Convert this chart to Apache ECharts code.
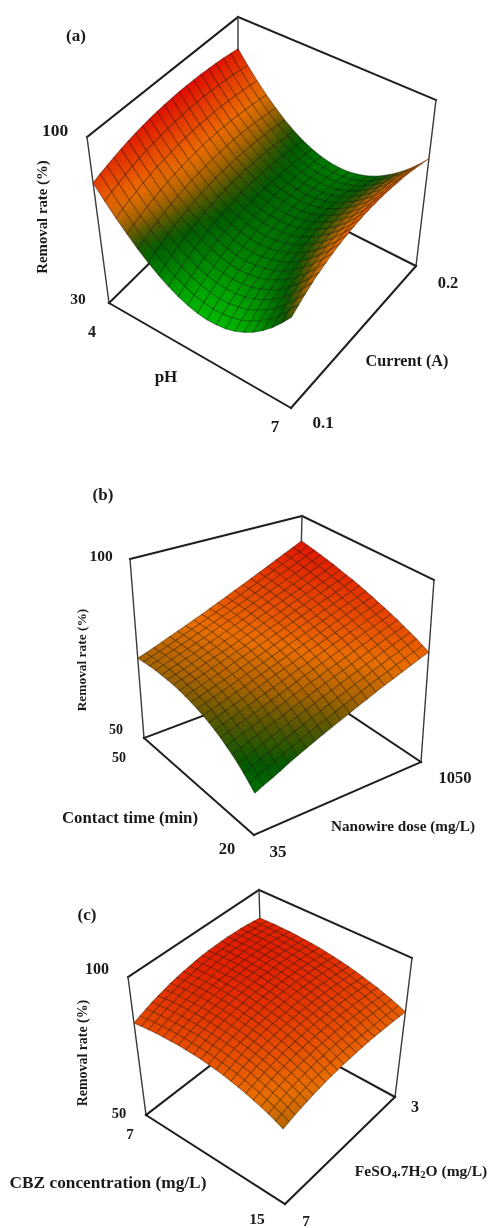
<!DOCTYPE html>
<html>
<head>
<meta charset="utf-8">
<title>Removal rate surfaces</title>
<script src="https://cdn.jsdelivr.net/npm/echarts@6/dist/echarts.min.js"></script>
<style>
html, body { margin: 0; padding: 0; background: #fff; }
#chart { width: 489px; height: 1228px; filter: blur(0.55px); }
</style>
</head>
<body>
<div id="chart"></div>
<script>
// removal rate (%), one row per step along the left axis
const surfaceA = [
  [80.6,81.8,82.8,83.8,84.7,85.5,86.2,86.8,87.3,87.7,88.0,88.2,88.4,88.4,88.3,88.2,87.9,87.6,87.2,86.6,86.0],
  [74.9,76.1,77.2,78.2,79.2,80.0,80.7,81.3,81.8,82.3,82.6,82.8,83.0,83.0,83.0,82.8,82.6,82.2,81.8,81.2,80.6],
  [69.7,71.0,72.1,73.2,74.1,75.0,75.7,76.3,76.9,77.3,77.7,77.9,78.1,78.1,78.1,77.9,77.7,77.3,76.9,76.3,75.7],
  [65.1,66.4,67.5,68.6,69.6,70.5,71.2,71.9,72.5,72.9,73.3,73.6,73.7,73.8,73.7,73.6,73.3,73.0,72.5,72.0,71.3],
  [60.9,62.3,63.5,64.6,65.6,66.5,67.3,68.0,68.6,69.0,69.4,69.7,69.9,69.9,69.9,69.8,69.5,69.2,68.7,68.1,67.5],
  [57.3,58.7,59.9,61.1,62.1,63.0,63.8,64.6,65.2,65.7,66.1,66.3,66.5,66.6,66.6,66.4,66.2,65.8,65.4,64.8,64.1],
  [54.2,55.6,56.9,58.0,59.1,60.1,60.9,61.7,62.3,62.8,63.2,63.5,63.7,63.8,63.7,63.6,63.4,63.0,62.5,61.9,61.3],
  [51.6,53.0,54.3,55.5,56.6,57.6,58.5,59.3,59.9,60.4,60.9,61.2,61.4,61.5,61.4,61.3,61.0,60.7,60.2,59.6,58.9],
  [49.5,50.9,52.3,53.5,54.7,55.7,56.6,57.4,58.0,58.6,59.0,59.3,59.6,59.7,59.6,59.5,59.3,58.9,58.4,57.8,57.1],
  [47.9,49.4,50.8,52.1,53.2,54.3,55.2,56.0,56.7,57.3,57.7,58.0,58.3,58.4,58.4,58.2,58.0,57.6,57.1,56.5,55.8],
  [46.8,48.4,49.8,51.1,52.3,53.4,54.3,55.1,55.8,56.4,56.9,57.3,57.5,57.6,57.6,57.5,57.2,56.8,56.3,55.7,55.0],
  [46.2,47.8,49.3,50.6,51.9,53.0,53.9,54.8,55.5,56.1,56.6,57.0,57.2,57.3,57.3,57.2,57.0,56.6,56.1,55.5,54.7],
  [46.2,47.8,49.3,50.7,51.9,53.1,54.1,55.0,55.7,56.3,56.8,57.2,57.5,57.6,57.6,57.5,57.2,56.8,56.3,55.7,54.9],
  [46.6,48.3,49.9,51.3,52.5,53.7,54.7,55.6,56.4,57.0,57.6,57.9,58.2,58.3,58.3,58.2,58.0,57.6,57.1,56.4,55.7],
  [47.6,49.3,50.9,52.4,53.7,54.9,55.9,56.8,57.6,58.3,58.8,59.2,59.5,59.6,59.6,59.5,59.3,58.9,58.4,57.7,56.9],
  [49.1,50.8,52.5,53.9,55.3,56.5,57.6,58.5,59.3,60.0,60.6,61.0,61.3,61.4,61.4,61.3,61.0,60.7,60.1,59.5,58.7],
  [51.1,52.9,54.5,56.1,57.4,58.7,59.8,60.7,61.6,62.3,62.8,63.2,63.5,63.7,63.7,63.6,63.3,63.0,62.4,61.8,61.0],
  [53.6,55.4,57.1,58.7,60.1,61.3,62.5,63.5,64.3,65.0,65.6,66.0,66.3,66.5,66.5,66.4,66.2,65.8,65.2,64.6,63.8],
  [56.6,58.5,60.2,61.8,63.2,64.5,65.7,66.7,67.6,68.3,68.9,69.3,69.6,69.8,69.8,69.7,69.5,69.1,68.6,67.9,67.1],
  [60.2,62.1,63.8,65.4,66.9,68.2,69.4,70.4,71.3,72.1,72.7,73.2,73.5,73.7,73.7,73.6,73.3,72.9,72.4,71.7,70.9],
  [64.2,66.1,67.9,69.6,71.1,72.4,73.6,74.7,75.6,76.4,77.0,77.5,77.8,78.0,78.0,77.9,77.7,77.3,76.7,76.0,75.2]
];

const surfaceB = [
  [72.3,73.0,73.8,74.6,75.5,76.3,77.2,78.1,79.0,80.0,81.0,82.0,83.1,84.1,85.2,86.4,87.5,88.7,89.9,91.1,92.4],
  [72.3,73.1,73.8,74.6,75.4,76.3,77.2,78.0,79.0,79.9,80.9,81.9,82.9,84.0,85.0,86.1,87.3,88.4,89.6,90.8,92.0],
  [72.3,73.0,73.8,74.6,75.4,76.2,77.1,77.9,78.8,79.8,80.7,81.7,82.7,83.7,84.8,85.9,87.0,88.1,89.2,90.4,91.6],
  [72.2,72.9,73.7,74.5,75.2,76.1,76.9,77.8,78.7,79.6,80.5,81.5,82.5,83.5,84.5,85.6,86.6,87.7,88.9,90.0,91.2],
  [72.0,72.8,73.5,74.3,75.0,75.9,76.7,77.5,78.4,79.3,80.2,81.2,82.2,83.1,84.2,85.2,86.2,87.3,88.4,89.6,90.7],
  [71.8,72.5,73.2,74.0,74.8,75.6,76.4,77.3,78.1,79.0,79.9,80.9,81.8,82.8,83.8,84.8,85.9,86.9,88.0,89.1,90.3],
  [71.5,72.2,72.9,73.7,74.5,75.3,76.1,76.9,77.8,78.7,79.6,80.5,81.5,82.4,83.4,84.4,85.4,86.5,87.5,88.6,89.7],
  [71.1,71.8,72.6,73.3,74.1,74.9,75.7,76.5,77.4,78.3,79.2,80.1,81.0,82.0,83.0,84.0,85.0,86.0,87.1,88.1,89.2],
  [70.6,71.4,72.1,72.9,73.6,74.4,75.3,76.1,77.0,77.8,78.7,79.6,80.6,81.5,82.5,83.5,84.5,85.5,86.5,87.6,88.7],
  [70.1,70.8,71.6,72.3,73.1,73.9,74.7,75.6,76.4,77.3,78.2,79.1,80.0,81.0,81.9,82.9,83.9,84.9,85.9,87.0,88.1],
  [69.5,70.2,71.0,71.8,72.6,73.4,74.2,75.0,75.9,76.8,77.7,78.6,79.5,80.4,81.4,82.4,83.4,84.4,85.4,86.4,87.5],
  [68.8,69.6,70.3,71.1,71.9,72.7,73.6,74.4,75.3,76.2,77.1,78.0,78.9,79.8,80.8,81.8,82.8,83.8,84.8,85.8,86.9],
  [68.1,68.8,69.6,70.4,71.2,72.1,72.9,73.8,74.7,75.5,76.4,77.3,78.3,79.2,80.2,81.1,82.1,83.1,84.2,85.2,86.2],
  [67.3,68.0,68.8,69.6,70.5,71.3,72.2,73.0,73.9,74.8,75.7,76.6,77.6,78.5,79.5,80.5,81.5,82.5,83.5,84.5,85.6],
  [66.4,67.2,68.0,68.8,69.6,70.5,71.4,72.2,73.1,74.1,75.0,75.9,76.9,77.8,78.8,79.8,80.8,81.8,82.8,83.8,84.9],
  [65.4,66.2,67.1,67.9,68.8,69.6,70.5,71.4,72.4,73.3,74.2,75.1,76.1,77.0,78.0,79.0,80.0,81.0,82.1,83.1,84.2],
  [64.4,65.2,66.1,66.9,67.8,68.7,69.6,70.5,71.5,72.4,73.3,74.3,75.3,76.2,77.2,78.2,79.2,80.3,81.3,82.4,83.4],
  [63.3,64.1,65.0,65.9,66.8,67.7,68.7,69.6,70.5,71.5,72.5,73.4,74.4,75.4,76.4,77.4,78.4,79.5,80.5,81.6,82.7],
  [62.1,63.0,63.9,64.8,65.8,66.7,67.6,68.6,69.6,70.5,71.5,72.5,73.5,74.5,75.5,76.6,77.6,78.7,79.7,80.8,81.9],
  [60.8,61.8,62.7,63.7,64.7,65.6,66.6,67.6,68.6,69.5,70.5,71.5,72.6,73.6,74.7,75.7,76.7,77.8,78.9,79.9,81.0],
  [59.5,60.5,61.4,62.4,63.5,64.5,65.5,66.5,67.5,68.5,69.5,70.5,71.6,72.6,73.7,74.8,75.8,76.9,78.0,79.1,80.2]
];

const surfaceC = [
  [83.3,84.3,85.2,86.1,86.8,87.5,88.2,88.7,89.2,89.6,90.0,90.3,90.5,90.6,90.7,90.7,90.6,90.5,90.3,90.0,89.6],
  [83.5,84.5,85.4,86.2,87.0,87.7,88.3,88.9,89.3,89.8,90.1,90.4,90.6,90.7,90.8,90.8,90.7,90.6,90.3,90.1,89.7],
  [83.6,84.6,85.5,86.3,87.1,87.8,88.4,88.9,89.4,89.8,90.2,90.4,90.6,90.8,90.8,90.8,90.7,90.6,90.4,90.1,89.8],
  [83.7,84.6,85.5,86.3,87.1,87.7,88.4,88.9,89.4,89.8,90.1,90.4,90.6,90.7,90.8,90.8,90.7,90.6,90.4,90.1,89.7],
  [83.6,84.6,85.4,86.3,87.0,87.7,88.3,88.8,89.3,89.7,90.0,90.3,90.5,90.6,90.7,90.7,90.6,90.5,90.3,90.0,89.7],
  [83.5,84.5,85.3,86.1,86.9,87.5,88.1,88.7,89.1,89.5,89.9,90.1,90.3,90.4,90.5,90.5,90.5,90.3,90.1,89.9,89.5],
  [83.4,84.3,85.1,85.9,86.6,87.3,87.9,88.4,88.9,89.3,89.6,89.9,90.1,90.2,90.3,90.3,90.2,90.1,89.9,89.7,89.3],
  [83.1,84.0,84.9,85.7,86.4,87.0,87.6,88.1,88.6,89.0,89.3,89.6,89.8,89.9,90.0,90.0,89.9,89.8,89.7,89.4,89.1],
  [82.8,83.7,84.5,85.3,86.0,86.7,87.2,87.8,88.2,88.6,88.9,89.2,89.4,89.5,89.6,89.6,89.6,89.5,89.3,89.1,88.8],
  [82.5,83.3,84.1,84.9,85.6,86.2,86.8,87.3,87.8,88.1,88.5,88.7,88.9,89.1,89.2,89.2,89.2,89.1,88.9,88.7,88.4],
  [82.0,82.9,83.7,84.4,85.1,85.7,86.3,86.8,87.2,87.6,88.0,88.2,88.4,88.6,88.7,88.7,88.7,88.6,88.5,88.3,88.0],
  [81.5,82.3,83.1,83.9,84.5,85.1,85.7,86.2,86.7,87.0,87.4,87.6,87.9,88.0,88.1,88.2,88.1,88.1,88.0,87.8,87.5],
  [80.9,81.7,82.5,83.2,83.9,84.5,85.1,85.6,86.0,86.4,86.7,87.0,87.2,87.4,87.5,87.6,87.6,87.5,87.4,87.2,87.0],
  [80.2,81.1,81.8,82.5,83.2,83.8,84.3,84.8,85.3,85.7,86.0,86.3,86.5,86.7,86.8,86.9,86.9,86.8,86.7,86.6,86.4],
  [79.5,80.3,81.1,81.8,82.4,83.0,83.5,84.0,84.5,84.9,85.2,85.5,85.7,85.9,86.0,86.1,86.1,86.1,86.1,85.9,85.7],
  [78.7,79.5,80.2,80.9,81.6,82.1,82.7,83.2,83.6,84.0,84.3,84.6,84.9,85.1,85.2,85.3,85.4,85.3,85.3,85.2,85.0],
  [77.8,78.6,79.3,80.0,80.6,81.2,81.7,82.2,82.7,83.1,83.4,83.7,84.0,84.2,84.3,84.4,84.5,84.5,84.5,84.4,84.3],
  [76.9,77.6,78.3,79.0,79.6,80.2,80.7,81.2,81.7,82.1,82.4,82.7,83.0,83.2,83.4,83.5,83.6,83.6,83.6,83.5,83.4],
  [75.9,76.6,77.3,78.0,78.6,79.1,79.7,80.2,80.6,81.0,81.4,81.7,81.9,82.2,82.3,82.5,82.6,82.6,82.7,82.6,82.6],
  [74.8,75.5,76.2,76.8,77.4,78.0,78.5,79.0,79.4,79.8,80.2,80.5,80.7,80.9,81.1,81.2,81.3,81.4,81.5,81.5,81.6],
  [73.6,74.3,75.0,75.6,76.2,76.8,77.3,77.8,78.2,78.6,79.0,79.3,79.6,79.9,80.1,80.3,80.4,80.5,80.6,80.6,80.6]
];

// colour ramps of the removal rate, (a) has its own spread
const rampValuesA = [46, 50, 55, 60, 64, 68, 73, 79, 85, 90];
const rampValuesBC = [46, 52, 58, 63, 68, 73, 78, 84, 90, 96];
const rampColors = [[0,185,0],[0,165,0],[0,125,0],[0,88,0],[80,86,0],[175,100,0],[234,110,0],[230,72,0],[225,35,0],[222,0,0]];

const zRangeA = [30, 100];
const zRangeB = [50, 100];
const zRangeC = [50, 100];

// box corners on the page, order: left, front, right, back
const floorA = [[109,303],[291,408],[416,266],[238,176]];
const roofA = [[87,137],[292,222],[436,100],[238,17]];
const floorB = [[144,738],[254,835],[421,762],[298,680]];
const roofB = [[130,559],[258,615],[434,580],[302,516]];
const floorC = [[146,1115],[285,1204],[395,1097],[263,1025]];
const roofC = [[128,977],[281,1045],[412,958],[259,890]];

const serif = '"Liberation Serif", "Times New Roman", serif';

function label(text, x, y, size, rotation) {
  return {
    type: 'text', x: x, y: y, rotation: rotation || 0, silent: true,
    style: { text: text, fontFamily: serif, fontWeight: 'bold', fontSize: size, fill: '#1a1a1a', align: 'center', verticalAlign: 'middle' }
  };
}

const up = Math.PI / 2;
const labels = [
  label('(a)', 76, 37, 17), label('100', 55, 131, 17.5), label('30', 78, 300, 15.5), label('4', 92, 333, 16),
  label('pH', 166, 378, 17), label('7', 275, 428, 17), label('0.1', 323, 424, 17), label('0.2', 448, 284, 16.5),
  label('Current (A)', 407, 362, 16.2), label('Removal rate (%)', 43, 217, 14.8, up),

  label('(b)', 103, 496, 17), label('100', 101, 557, 15.5), label('50', 116, 730, 14), label('50', 119, 758, 14),
  label('Contact time (min)', 130, 819, 16.8), label('20', 227, 850, 16.5), label('35', 278, 853, 17),
  label('1050', 455, 779, 16.5), label('Nanowire dose (mg/L)', 403, 827, 15.2), label('Removal rate (%)', 83, 660, 13.4, up),

  label('(c)', 87, 916, 17), label('100', 97, 970, 16), label('50', 119, 1114, 14.5), label('7', 130, 1135, 15),
  label('CBZ concentration (mg/L)', 108, 1184, 17.3), label('15', 257, 1220, 15.5), label('7', 306, 1222, 15.5),
  label('3', 415, 1108, 16), label('Removal rate (%)', 83, 1053, 13.9, up),
  {
    type: 'text', x: 421, y: 1172, silent: true,
    style: {
      text: '{n|FeSO}{s|4}{n|.7H}{s|2}{n|O (mg/L)}', align: 'center', verticalAlign: 'middle',
      rich: {
        n: { fontFamily: serif, fontWeight: 'bold', fontSize: 15.5, fill: '#1a1a1a' },
        s: { fontFamily: serif, fontWeight: 'bold', fontSize: 10, fill: '#1a1a1a', verticalAlign: 'bottom' }
      }
    }
  }
];

function bilinear(c, u, v) {
  return [0, 1].map(function (k) {
    return c[0][k] * (1 - u) * (1 - v) + c[1][k] * u * (1 - v) + c[2][k] * u * v + c[3][k] * (1 - u) * v;
  });
}

// u runs left -> front, v runs front side -> right side, w is the height in the box
function project(floor, roof, u, v, w) {
  const a = bilinear(floor, u, v);
  const b = bilinear(roof, u, v);
  return [a[0] + (b[0] - a[0]) * w, a[1] + (b[1] - a[1]) * w];
}

function rampColor(ramp, z) {
  let k = 0;
  while (k < ramp.length - 2 && z > ramp[k + 1]) k++;
  const t = Math.max(0, Math.min(1, (z - ramp[k]) / (ramp[k + 1] - ramp[k])));
  const c = rampColors[k].map(function (x, n) { return Math.round(x + (rampColors[k + 1][n] - x) * t); });
  return 'rgb(' + c.join(',') + ')';
}

function middle(a, b) {
  return [(a[0] + b[0]) / 2, (a[1] + b[1]) / 2];
}

function frameSeries(floor, roof) {
  const edges = [
    [0,0,1, 0,1,1], [0,1,1, 1,1,1], [0,0,0, 0,0,1], [0,1,0, 0,1,1], [1,1,0, 1,1,1],
    [0,0,0, 1,0,0], [1,0,0, 1,1,0], [1,1,0, 0,1,0], [0,1,0, 0,0,0]
  ];
  return {
    type: 'custom', coordinateSystem: 'cartesian2d', silent: true, animation: false, z: 1,
    data: edges,
    renderItem: function (params, api) {
      const p = api.coord(project(floor, roof, api.value(0), api.value(1), api.value(2)));
      const q = api.coord(project(floor, roof, api.value(3), api.value(4), api.value(5)));
      const vertical = api.value(0) === api.value(3) && api.value(1) === api.value(4);
      return {
        type: 'line',
        shape: { x1: p[0], y1: p[1], x2: q[0], y2: q[1] },
        style: { stroke: vertical ? '#3a3a3a' : '#1e1e1e', lineWidth: vertical ? 1.4 : 2, lineCap: 'square' }
      };
    }
  };
}

function surfaceSeries(values, zRange, ramp, floor, roof) {
  const n = values.length - 1;
  const cells = [];
  // far cells first so the nearer ones paint over them
  for (let i = 0; i < n; i++) {
    for (let j = n - 1; j >= 0; j--) {
      cells.push([i, j, values[i][j], values[i + 1][j], values[i + 1][j + 1], values[i][j + 1]]);
    }
  }
  const height = function (z) { return (z - zRange[0]) / (zRange[1] - zRange[0]); };
  return {
    type: 'custom', coordinateSystem: 'cartesian2d', silent: true, animation: false, z: 2, progressive: 0,
    data: cells,
    renderItem: function (params, api) {
      const i = api.value(0), j = api.value(1);
      const z = [api.value(2), api.value(3), api.value(4), api.value(5)];
      const corners = [[i, j], [i + 1, j], [i + 1, j + 1], [i, j + 1]];
      const pts = corners.map(function (c, k) {
        return api.coord(project(floor, roof, c[0] / n, c[1] / n, height(z[k])));
      });
      // blend across the cell along the side where the value changes most
      const alongU = Math.abs(z[1] + z[2] - z[0] - z[3]) > Math.abs(z[2] + z[3] - z[0] - z[1]);
      const from = alongU ? middle(pts[0], pts[3]) : middle(pts[0], pts[1]);
      const to = alongU ? middle(pts[1], pts[2]) : middle(pts[2], pts[3]);
      const c0 = rampColor(ramp, alongU ? (z[0] + z[3]) / 2 : (z[0] + z[1]) / 2);
      const c1 = rampColor(ramp, alongU ? (z[1] + z[2]) / 2 : (z[2] + z[3]) / 2);
      const fill = new echarts.graphic.LinearGradient(from[0], from[1], to[0], to[1], [
        { offset: 0, color: c0 }, { offset: 1, color: c1 }
      ], true);
      return {
        type: 'group',
        children: [
          { type: 'polygon', shape: { points: pts }, style: { fill: fill, stroke: c0, lineWidth: 0.3 } },
          { type: 'polygon', shape: { points: pts }, style: { fill: 'none', stroke: 'rgba(0,0,0,0.3)', lineWidth: 1.1 } }
        ]
      };
    }
  };
}

const chart = echarts.init(document.getElementById('chart'), null, { renderer: 'canvas' });
chart.setOption({
  animation: false,
  backgroundColor: '#fff',
  grid: { left: 0, right: 0, top: 0, bottom: 0 },
  xAxis: { type: 'value', min: 0, max: 489, show: false },
  yAxis: { type: 'value', min: 0, max: 1228, inverse: true, show: false },
  graphic: labels,
  series: [
    frameSeries(floorA, roofA), surfaceSeries(surfaceA, zRangeA, rampValuesA, floorA, roofA),
    frameSeries(floorB, roofB), surfaceSeries(surfaceB, zRangeB, rampValuesBC, floorB, roofB),
    frameSeries(floorC, roofC), surfaceSeries(surfaceC, zRangeC, rampValuesBC, floorC, roofC)
  ]
});
</script>
</body>
</html>
